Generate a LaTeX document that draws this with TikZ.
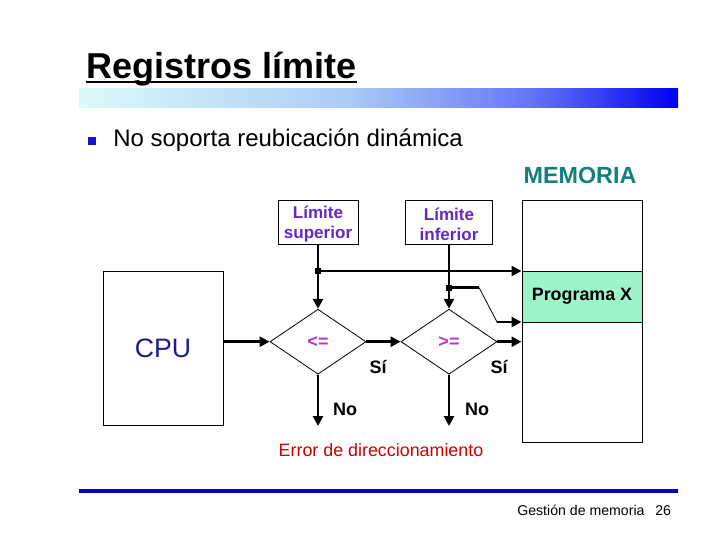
\documentclass[tikz,border=0pt]{standalone}
\usepackage{fontspec}
\setmainfont{Liberation Sans}
\usetikzlibrary{shapes.geometric,arrows.meta}
\definecolor{gA}{HTML}{DCFAFA}
\definecolor{gB}{HTML}{AACCF6}
\definecolor{gC}{HTML}{6478F8}
\definecolor{gD}{HTML}{0000EE}
\definecolor{limcol}{HTML}{6428C8}
\definecolor{magcol}{HTML}{C030C8}
\definecolor{memcol}{HTML}{138080}
\definecolor{cpucol}{HTML}{1C1C90}
\definecolor{progcol}{HTML}{9CF4C8}
\definecolor{errcol}{HTML}{CC0000}
\definecolor{bulcol}{HTML}{1414D2}
\definecolor{linecol}{HTML}{0000CC}
\pgfdeclarehorizontalshading{barshade}{100bp}{color(0bp)=(gA); color(25bp)=(gA); color(47.5bp)=(gB); color(62.5bp)=(gC); color(75bp)=(gD); color(100bp)=(gD)}
\begin{document}
\begin{tikzpicture}[x=0.75pt,y=-0.75pt,
  regbox/.style={draw, line width=0.75pt, inner sep=0pt, minimum height=33pt, text=limcol, font=\bfseries\fontsize{12.8}{15}\selectfont, align=center},
  cond/.style={diamond, draw, line width=0.6pt, minimum width=72pt, minimum height=48.75pt, inner sep=0pt, text=magcol, font=\bfseries\fontsize{13.5}{15}\selectfont},
  arr/.style={line width=2pt, -{Triangle[length=7.5pt,width=7.5pt]}},
  lbl/.style={inner sep=0pt, font=\bfseries\fontsize{13.5}{15}\selectfont},
  jdot/.style={fill=black, inner sep=0pt, minimum size=4.5pt}
]
\useasboundingbox (0,0) rectangle (720,540);
% title
\node[inner sep=0pt, anchor=base west, font=\bfseries\fontsize{27}{30}\selectfont] (title) at (86,78) {Registros límite};
\draw[line width=1.6pt] (86,82) -- (title.east |- 0,82);
\shade[shading=barshade] (79,88) rectangle (678,107);
% bullet
\node[fill=bulcol, inner sep=0pt, minimum size=6pt] (bul) at (92,141) {};
\node[inner sep=0pt, anchor=west, font=\fontsize{18}{20}\selectfont] (bt) at (113,140) {No soporta reubicación dinámica};
% memory
\node[inner sep=0pt, text=memcol, font=\bfseries\fontsize{17.5}{20}\selectfont] (memt) at (580,175) {MEMORIA};
\node[draw, line width=0.75pt, minimum width=90pt, minimum height=181.5pt, inner sep=0pt] (mem) at (582,321) {};
\node[draw, line width=0.75pt, fill=progcol, minimum width=90pt, minimum height=38.25pt, inner sep=0pt, font=\bfseries\fontsize{13.4}{15}\selectfont] (prog) at (582,296.5) {Programa X};
% registers
\node[regbox, minimum width=60pt] (sup) at (318,222) {};
\node[regbox, minimum width=65.25pt] (inf) at (449,222) {};
\node[inner sep=0pt, text=limcol, font=\bfseries\fontsize{12.8}{15}\selectfont, align=center] (supt) at (318,224) {Límite\\superior};
\node[inner sep=0pt, text=limcol, font=\bfseries\fontsize{12.8}{15}\selectfont, align=center] (inft) at (449,224) {Límite\\inferior};
% cpu
\node[draw, line width=0.75pt, minimum width=90pt, minimum height=115.5pt, inner sep=0pt, text=cpucol, font=\fontsize{20}{22}\selectfont] (cpu) at (163,348) {CPU};
% comparators
\node[cond] (d1) at (318,341.7) {<=};
\node[cond] (d2) at (449,341.7) {>=};
% junctions
\coordinate (j1) at (318,271);
\coordinate (j2) at (449,287.5);
\coordinate (k1) at (479,287.5);
\coordinate (k2) at (497,322);
\coordinate (e1) at (318,426);
\coordinate (e2) at (449,426);
% connectors
\draw[arr] (sup.south) -- (d1.north);
\draw[arr] (inf.south) -- (d2.north);
\draw[arr] (j1) -- (j1 -| mem.west);
\draw[line width=2pt] (j2) -- (k1);
\draw[line width=0.6pt] (k1) -- (k2);
\draw[arr] (k2) -- (k2 -| mem.west);
\draw[arr] (cpu.east |- d1.west) -- (d1.west);
\draw[arr] (d1.east) -- (d2.west);
\draw[arr] (d2.east) -- (d2.east -| mem.west);
\draw[arr] (d1.south) -- (e1);
\draw[arr] (d2.south) -- (e2);
\node[jdot] (jd1) at (j1) {};
\node[jdot] (jd2) at (j2) {};
% labels
\node[lbl] (si1) at (378,367) {Sí};
\node[lbl] (si2) at (499,367) {Sí};
\node[lbl] (no1) at (345,409) {No};
\node[lbl] (no2) at (477,409) {No};
\node[inner sep=0pt, text=errcol, font=\fontsize{13.4}{15}\selectfont] (err) at (381,450) {Error de direccionamiento};
% footer
\draw[line width=3pt, linecol] (79,491) -- (678,491);
\node[inner sep=0pt, anchor=base west, font=\fontsize{10.6}{12}\selectfont] (foot) at (517,515) {Gestión de memoria};
\node[inner sep=0pt, anchor=base west, font=\fontsize{10.6}{12}\selectfont] (page) at (655,515) {26};
\end{tikzpicture}
\end{document}
